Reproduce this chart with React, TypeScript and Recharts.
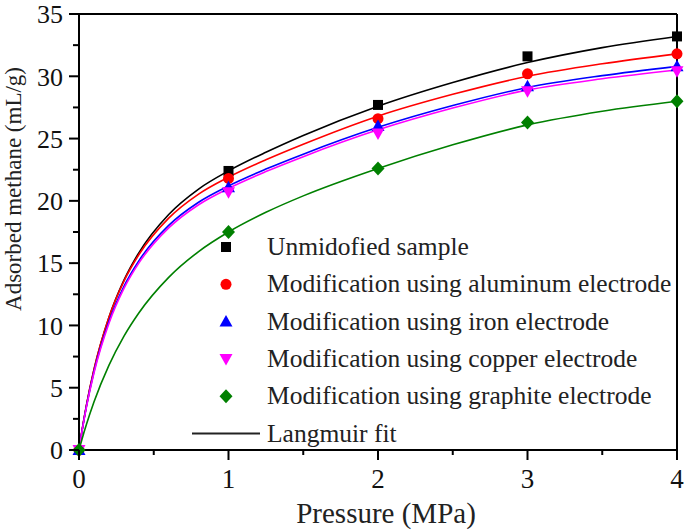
import { ComposedChart, Line, Scatter, XAxis, YAxis, ReferenceLine, Legend, Label } from "recharts";

const pressure = [0, 1, 2, 3, 4];
const unmodified = [0, 22.4, 27.7, 31.6, 33.2];
const aluminum = [0, 21.8, 26.6, 30.2, 31.8];
const iron = [0, 21.1, 26.0, 29.2, 30.8];
const copper = [0, 20.7, 25.4, 28.8, 30.4];
const graphite = [0, 17.5, 22.6, 26.3, 28.0];

// Langmuir fit curves
const fitPressure = [0, 0.02, 0.05, 0.1, 0.2, 0.3, 0.4, 0.6, 0.8, 1, 1.25, 1.5, 2, 2.5, 3, 3.5, 4];
const fitUnmodified = [0, 1.54, 3.58, 6.42, 10.63, 13.61, 15.83, 18.91, 20.95, 22.4, 23.9, 25.25, 27.6, 29.5, 31.1, 32.3, 33.2];
const fitAluminum = [0, 1.57, 3.63, 6.47, 10.64, 13.54, 15.67, 18.61, 20.54, 21.9, 23.3, 24.55, 26.8, 28.55, 30.0, 31.0, 31.8];
const fitIron = [0, 1.52, 3.52, 6.28, 10.31, 13.12, 15.18, 18.03, 19.89, 21.2, 22.55, 23.75, 25.9, 27.65, 29.1, 30.05, 30.8];
const fitCopper = [0, 1.49, 3.46, 6.18, 10.16, 12.95, 15.0, 17.83, 19.69, 21.0, 22.35, 23.55, 25.7, 27.45, 28.9, 29.8, 30.5];
const fitGraphite = [0, 0.86, 2.06, 3.85, 6.79, 9.12, 11.0, 13.86, 15.93, 17.5, 19.08, 20.4, 22.6, 24.5, 26.1, 27.2, 28.0];

const xTicks = [0, 0.5, 1, 1.5, 2, 2.5, 3, 3.5, 4];
const yTicks = [0, 2.5, 5, 7.5, 10, 12.5, 15, 17.5, 20, 22.5, 25, 27.5, 30, 32.5, 35];

const FONT = "'Liberation Serif', 'Times New Roman', serif";

type Kind = "square" | "circle" | "triangle" | "down" | "diamond";

const series: { name: string; color: string; kind: Kind; values: number[]; fit: number[] }[] = [
  { name: "Unmidofied sample", color: "#000000", kind: "square", values: unmodified, fit: fitUnmodified },
  { name: "Modification using aluminum electrode", color: "#ff0000", kind: "circle", values: aluminum, fit: fitAluminum },
  { name: "Modification using iron electrode", color: "#0000ff", kind: "triangle", values: iron, fit: fitIron },
  { name: "Modification using copper electrode", color: "#ff00ff", kind: "down", values: copper, fit: fitCopper },
  { name: "Modification using graphite electrode", color: "#008000", kind: "diamond", values: graphite, fit: fitGraphite },
];

const Marker = ({ cx, cy, kind, color }: { cx: number; cy: number; kind: Kind; color: string }) => {
  if (kind === "square") return <rect x={cx - 5} y={cy - 5} width={10} height={10} fill={color} />;
  if (kind === "circle") return <circle cx={cx} cy={cy} r={5.5} fill={color} />;
  if (kind === "triangle")
    return <polygon points={`${cx},${cy - 6.5} ${cx - 6.5},${cy + 5} ${cx + 6.5},${cy + 5}`} fill={color} />;
  if (kind === "down")
    return <polygon points={`${cx},${cy + 6.5} ${cx - 6.5},${cy - 5} ${cx + 6.5},${cy - 5}`} fill={color} />;
  return <polygon points={`${cx},${cy - 7} ${cx + 6.5},${cy} ${cx},${cy + 7} ${cx - 6.5},${cy}`} fill={color} />;
};

const XTick = ({ x, y, payload }: any) => {
  const major = Number.isInteger(payload.value);
  return (
    <g>
      <line x1={x} x2={x} y1={y} y2={y + (major ? 10 : 5)} stroke="#000" strokeWidth={2} />
      {major && (
        <text x={x} y={y + 38} textAnchor="middle" fontSize={27} fontFamily={FONT} fill="#111">
          {payload.value}
        </text>
      )}
    </g>
  );
};

const YTick = ({ x, y, payload }: any) => {
  const major = payload.value % 5 === 0;
  return (
    <g>
      <line x1={x} x2={x - (major ? 10 : 6)} y1={y} y2={y} stroke="#000" strokeWidth={2} />
      {major && (
        <text x={x - 16} y={y + 9.3} textAnchor="end" fontSize={26} fontFamily={FONT} fill="#111">
          {payload.value}
        </text>
      )}
    </g>
  );
};

const LegendBox = () => (
  <svg width={505} height={225}>
    {series.map((s, i) => {
      const cy = 22 + i * 37.3;
      return (
        <g key={s.name}>
          <Marker cx={46} cy={cy} kind={s.kind} color={s.color} />
          <text x={87} y={cy + 8} fontSize={25.5} fontFamily={FONT} fill="#222">
            {s.name}
          </text>
        </g>
      );
    })}
    <line x1={12} x2={80} y1={208.5} y2={208.5} stroke="#222" strokeWidth={2} />
    <text x={87} y={216.5} fontSize={25.5} fontFamily={FONT} fill="#222">
      Langmuir fit
    </text>
  </svg>
);

export default function App() {
  return (
    <div style={{ position: "absolute", left: 0, top: 0, background: "#fff" }}>
      <ComposedChart width={685} height={531} margin={{ top: 14, right: 8, bottom: 0, left: 0 }}>
        <XAxis
          type="number"
          dataKey="p"
          domain={[0, 4]}
          ticks={xTicks}
          interval={0}
          height={81}
          tickSize={0}
          tickMargin={0}
          tickLine={false}
          tick={XTick}
          axisLine={{ stroke: "#000", strokeWidth: 2 }}
        >
          <Label
            content={() => (
              <text x={386} y={523} textAnchor="middle" fontSize={29} fontFamily={FONT} fill="#222">
                Pressure (MPa)
              </text>
            )}
          />
        </XAxis>
        <YAxis
          type="number"
          domain={[0, 35]}
          ticks={yTicks}
          interval={0}
          width={79}
          tickSize={0}
          tickMargin={0}
          tickLine={false}
          tick={YTick}
          axisLine={{ stroke: "#000", strokeWidth: 2 }}
        >
          <Label
            content={() => (
              <text
                transform="translate(21,189) rotate(-90)"
                textAnchor="middle"
                fontSize={23}
                fontFamily={FONT}
                fill="#222"
              >
                Adsorbed methane (mL/g)
              </text>
            )}
          />
        </YAxis>
        <ReferenceLine y={35} stroke="#000" strokeWidth={2} />
        <ReferenceLine x={4} stroke="#000" strokeWidth={2} />
        {series.map((s) => (
          <Line
            key={`fit-${s.name}`}
            data={fitPressure.map((p, i) => ({ p, v: s.fit[i] }))}
            dataKey="v"
            type="monotone"
            stroke={s.color}
            strokeWidth={1.6}
            dot={false}
            activeDot={false}
            legendType="none"
            isAnimationActive={false}
          />
        ))}
        {series.map((s) => (
          <Scatter
            key={`pts-${s.name}`}
            name={s.name}
            data={pressure.map((p, i) => ({ p, v: s.values[i] }))}
            dataKey="v"
            fill={s.color}
            shape={(props: any) => <Marker cx={props.cx} cy={props.cy} kind={s.kind} color={s.color} />}
            isAnimationActive={false}
          />
        ))}
        <Legend
          layout="vertical"
          align="center"
          verticalAlign="middle"
          content={LegendBox}
          wrapperStyle={{ position: "absolute", left: 180, top: 225, width: 505, height: 225 }}
        />
      </ComposedChart>
    </div>
  );
}
